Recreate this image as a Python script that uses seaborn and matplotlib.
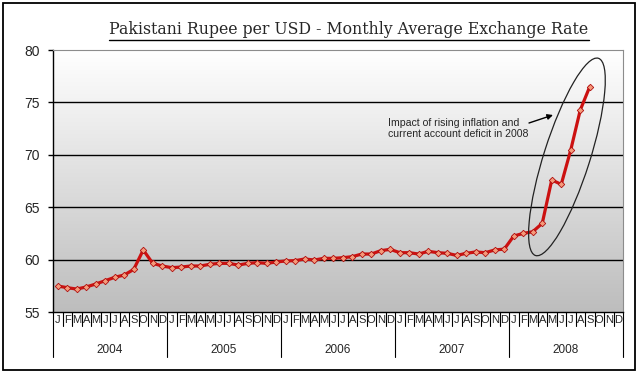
import numpy as np
import pandas as pd
import matplotlib
matplotlib.use("Agg")
import matplotlib.pyplot as plt
import seaborn as sns
import matplotlib.transforms as mtransforms
from matplotlib.patches import Ellipse, Rectangle
from matplotlib.lines import Line2D
from matplotlib.colors import LinearSegmentedColormap

# ---------------- data ----------------
years = ["2004", "2005", "2006", "2007", "2008"]
month_letters = ["J", "F", "M", "A", "M", "J", "J", "A", "S", "O", "N", "D"]
rate_2004 = [57.48, 57.32, 57.19, 57.39, 57.67, 57.99, 58.31, 58.53, 59.07, 60.92, 59.64, 59.39]
rate_2005 = [59.23, 59.29, 59.39, 59.39, 59.55, 59.64, 59.64, 59.48, 59.64, 59.71, 59.64, 59.77]
rate_2006 = [59.87, 59.90, 60.06, 59.96, 60.12, 60.12, 60.18, 60.28, 60.53, 60.53, 60.85, 60.98]
rate_2007 = [60.66, 60.66, 60.53, 60.79, 60.66, 60.60, 60.40, 60.60, 60.73, 60.66, 60.92, 61.00]
rate_2008 = [62.25, 62.50, 62.66, 63.46, 67.60, 67.18, 70.46, 74.27, 76.50]
y_ticks = [55, 60, 65, 70, 75, 80]
title = "Pakistani Rupee per USD - Monthly Average Exchange Rate"
note = "Impact of rising inflation and\ncurrent account deficit in 2008"

rates = rate_2004 + rate_2005 + rate_2006 + rate_2007 + rate_2008
df = pd.DataFrame({"month": np.arange(len(rates)), "rate": rates})
n_months = 12 * len(years)

# ---------------- style ----------------
sns.set_style("white")
plt.rcParams["font.family"] = ["Liberation Sans", "DejaVu Sans"]

fig = plt.figure(figsize=(6.4, 3.75), dpi=100)
W, H = 640, 375
ax = fig.add_axes([53 / W, (H - 312) / H, 570 / W, 262 / H])

# gradient background of plot area
cmap = LinearSegmentedColormap.from_list("bg", ["#bdbdbd", "#ffffff"])
grad = np.linspace(0, 1, 256).reshape(-1, 1)
ax.imshow(grad, extent=[0, 1, 0, 1], transform=ax.transAxes, cmap=cmap,
          aspect="auto", origin="lower", zorder=0, interpolation="bilinear")

sns.lineplot(data=df, x="month", y="rate", ax=ax, color="#cc1111", lw=2.3,
             marker="D", markersize=3.3, markerfacecolor="#f59a7a",
             markeredgecolor="#b01010", markeredgewidth=0.6, zorder=5)

ax.set_xlim(-0.5, n_months - 0.5)
ax.set_ylim(y_ticks[0], y_ticks[-1])
ax.set_yticks(y_ticks)
ax.set_yticklabels([str(v) for v in y_ticks], fontsize=10)
ax.set_xticks([])
ax.set_xlabel("")
ax.set_ylabel("")
for v in y_ticks[1:-1]:
    ax.axhline(v, color="black", lw=1.0, zorder=2)
ax.tick_params(axis="y", direction="out", length=3.5, width=1, color="black", pad=6,
               left=True)

for s in ["top", "right"]:
    ax.spines[s].set_color("#8c8c8c")
    ax.spines[s].set_linewidth(0.8)
for s in ["left", "bottom"]:
    ax.spines[s].set_color("black")
    ax.spines[s].set_linewidth(1.0)

# two-level category x axis
bt = mtransforms.blended_transform_factory(ax.transData, ax.transAxes)
y_month = -(320 - 312) / 262
y_msep = -(326 - 312) / 262
y_ysep = -(357 - 312) / 262
y_year = -(350 - 312) / 262
for i in range(n_months):
    ax.text(i, y_month, month_letters[i % 12], transform=bt, ha="center",
            va="center", fontsize=8)
for i in range(n_months + 1):
    long_sep = (i % 12 == 0)
    ax.add_line(Line2D([i - 0.5, i - 0.5], [0, y_ysep if long_sep else y_msep],
                       transform=bt, color="black", lw=0.8, clip_on=False))
for k, yr in enumerate(years):
    ax.text(12 * k + 5.5, y_year, yr, transform=bt, ha="center", va="center",
            fontsize=8.5)

# ellipse around the 2008 surge (size in pixels, centred on a data position)
etr = mtransforms.Affine2D() + mtransforms.ScaledTranslation(53.6, 69.8, ax.transData)
ax.add_patch(Ellipse((0, 0), 46, 207, angle=-17.7, transform=etr, fill=False,
                     ec="#222222", lw=0.9, clip_on=False, zorder=6))

# annotation text and arrow
fig.text(388 / W, 1 - 128.5 / H, note, ha="left", va="center", fontsize=7.6,
         linespacing=1.15)
ax.annotate("", xy=(553, H - 115), xytext=(529, H - 123), xycoords="figure pixels",
            textcoords="figure pixels",
            arrowprops=dict(arrowstyle="-|>", color="black", lw=1.0,
                            mutation_scale=8, shrinkA=0, shrinkB=0))

# title with underline
t = fig.text(349 / W, 1 - 30 / H, title, ha="center", va="center",
             fontsize=11.3, family=["DejaVu Serif"])
fig.canvas.draw()
bb = t.get_window_extent(renderer=fig.canvas.get_renderer())
fig.add_artist(Line2D([bb.x0, bb.x1], [bb.y0 - 1, bb.y0 - 1], transform=None,
                      color="black", lw=1.0))

# outer border
fig.add_artist(Rectangle((3 / W, 5 / H), 632 / W, 367 / H, transform=fig.transFigure,
                         fill=False, ec="black", lw=1.3))

fig.savefig("out.png", dpi=100)
